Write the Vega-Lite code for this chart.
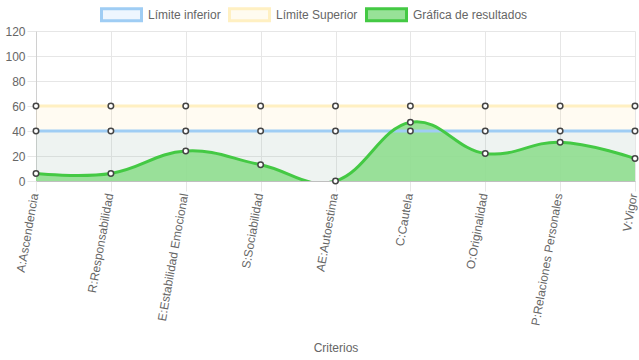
{
  "$schema": "https://vega.github.io/schema/vega-lite/v6.json",
  "width": 599,
  "height": 150,
  "autosize": "none",
  "padding": {"left": 36, "top": 31, "right": 4, "bottom": 179},
  "background": "white",
  "config": {
    "view": {"stroke": null},
    "font": "Liberation Sans",
    "axis": {
      "labelFont": "Liberation Sans",
      "labelFontSize": 12,
      "labelColor": "#666666",
      "titleFont": "Liberation Sans",
      "titleFontSize": 12,
      "titleFontWeight": "normal",
      "titleColor": "#666666",
      "gridColor": "#e6e6e6",
      "gridOpacity": 1,
      "tickColor": "#e6e6e6"
    },
    "legend": {
      "labelFont": "Liberation Sans",
      "labelFontSize": 12,
      "labelColor": "#666666"
    }
  },
  "data": {
    "values": [
      {"criterio": "A:Ascendencia", "serie": "Límite inferior", "valor": 40},
      {"criterio": "R:Responsabilidad", "serie": "Límite inferior", "valor": 40},
      {"criterio": "E:Estabilidad Emocional", "serie": "Límite inferior", "valor": 40},
      {"criterio": "S:Sociabilidad", "serie": "Límite inferior", "valor": 40},
      {"criterio": "AE:Autoestima", "serie": "Límite inferior", "valor": 40},
      {"criterio": "C:Cautela", "serie": "Límite inferior", "valor": 40},
      {"criterio": "O:Originalidad", "serie": "Límite inferior", "valor": 40},
      {"criterio": "P:Relaciones Personales", "serie": "Límite inferior", "valor": 40},
      {"criterio": "V:Vigor", "serie": "Límite inferior", "valor": 40},
      {"criterio": "A:Ascendencia", "serie": "Límite Superior", "valor": 60},
      {"criterio": "R:Responsabilidad", "serie": "Límite Superior", "valor": 60},
      {"criterio": "E:Estabilidad Emocional", "serie": "Límite Superior", "valor": 60},
      {"criterio": "S:Sociabilidad", "serie": "Límite Superior", "valor": 60},
      {"criterio": "AE:Autoestima", "serie": "Límite Superior", "valor": 60},
      {"criterio": "C:Cautela", "serie": "Límite Superior", "valor": 60},
      {"criterio": "O:Originalidad", "serie": "Límite Superior", "valor": 60},
      {"criterio": "P:Relaciones Personales", "serie": "Límite Superior", "valor": 60},
      {"criterio": "V:Vigor", "serie": "Límite Superior", "valor": 60},
      {"criterio": "A:Ascendencia", "serie": "Gráfica de resultados", "valor": 6},
      {"criterio": "R:Responsabilidad", "serie": "Gráfica de resultados", "valor": 6},
      {"criterio": "E:Estabilidad Emocional", "serie": "Gráfica de resultados", "valor": 24},
      {"criterio": "S:Sociabilidad", "serie": "Gráfica de resultados", "valor": 13},
      {"criterio": "AE:Autoestima", "serie": "Gráfica de resultados", "valor": 0},
      {"criterio": "C:Cautela", "serie": "Gráfica de resultados", "valor": 47},
      {"criterio": "O:Originalidad", "serie": "Gráfica de resultados", "valor": 22},
      {"criterio": "P:Relaciones Personales", "serie": "Gráfica de resultados", "valor": 31},
      {"criterio": "V:Vigor", "serie": "Gráfica de resultados", "valor": 18}
    ]
  },
  "encoding": {
    "x": {
      "field": "criterio",
      "type": "ordinal",
      "sort": null,
      "scale": {"type": "point", "padding": 0},
      "axis": {
        "title": "Criterios",
        "titleY": 166,
        "titleBaseline": "middle",
        "labelAngle": -80,
        "labelPadding": 2,
        "labelOffset": -2,
        "labelBound": false,
        "tickSize": 10,
        "grid": true,
        "domain": true,
        "domainColor": "#bfbfbf",
        "domainWidth": 1
      }
    },
    "y": {
      "field": "valor",
      "type": "quantitative",
      "stack": null,
      "scale": {"domain": [0, 120], "nice": false, "zero": true},
      "axis": {
        "title": null,
        "values": [0, 20, 40, 60, 80, 100, 120],
        "tickSize": 9,
        "labelPadding": 2,
        "grid": true,
        "domain": true,
        "domainColor": "#d0d0d0"
      }
    }
  },
  "layer": [
    {
      "transform": [{"filter": "datum.serie === 'Límite Superior'"}],
      "mark": {"type": "area", "color": "#ffce56", "opacity": 0.08}
    },
    {
      "transform": [{"filter": "datum.serie === 'Límite inferior'"}],
      "mark": {"type": "area", "color": "#36a2eb", "opacity": 0.085}
    },
    {
      "transform": [{"filter": "datum.serie === 'Gráfica de resultados'"}],
      "mark": {"type": "area", "color": "#8fde8f", "opacity": 0.9, "interpolate": "cardinal", "tension": -0.2, "clip": true}
    },
    {
      "mark": {"type": "line", "strokeWidth": 3, "interpolate": "cardinal", "tension": -0.2, "clip": true},
      "encoding": {
        "stroke": {
          "field": "serie",
          "type": "nominal",
          "scale": {
            "domain": ["Límite inferior", "Límite Superior", "Gráfica de resultados"],
            "range": ["#9fcdf4", "#fff0c2", "#44c944"]
          },
          "legend": {
            "title": null,
            "orient": "none",
            "direction": "horizontal",
            "legendX": 64,
            "legendY": -38,
            "symbolType": "M-1,-0.3H1V0.3H-1Z",
            "symbolSize": 1600,
            "symbolStrokeWidth": 3,
            "labelOffset": 5,
            "columnPadding": 2,
            "encode": {
              "symbols": {
                "update": {
                  "fill": {"signal": "datum.value === 'Límite inferior' ? '#eef6fe' : datum.value === 'Límite Superior' ? '#fffbf0' : '#98e298'"},
                  "fillOpacity": {"value": 1}
                }
              }
            }
          }
        }
      }
    },
    {
      "mark": {"type": "point", "shape": "circle", "filled": true, "fill": "white", "stroke": "#444444", "strokeWidth": 1.5, "size": 30, "opacity": 1}
    }
  ]
}
